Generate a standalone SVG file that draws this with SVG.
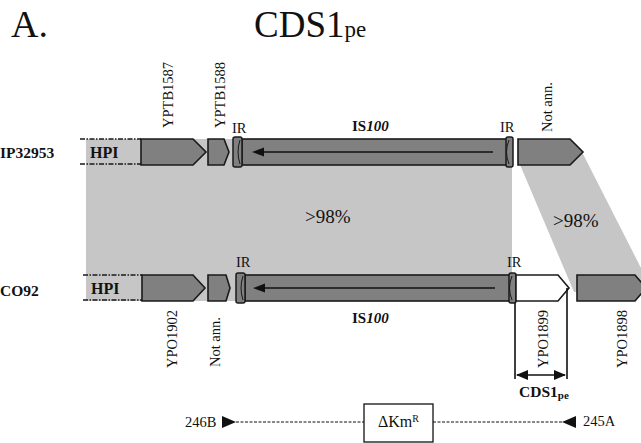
<svg xmlns="http://www.w3.org/2000/svg" width="641" height="443" viewBox="0 0 641 443" font-family="'Liberation Serif', 'DejaVu Serif', serif">
<defs>
<style>
text{font-family:"Liberation Serif","DejaVu Serif",serif;fill:#111}
.gene{fill:#808080;stroke:#1a1a1a;stroke-width:1.6;stroke-linejoin:miter}
.white{fill:#fff}
.ir{fill:#808080;stroke:#1a1a1a;stroke-width:1.5}
.irarc{fill:none;stroke:#1a1a1a;stroke-width:1}
.shade{fill:#c6c6c6}
.hpi{stroke:#1a1a1a;stroke-width:1.6;stroke-dasharray:5 1.5 1.5 1.5;fill:none}
.lbl{font-size:14.5px}
.b{font-weight:bold}
.line{stroke:#111;stroke-width:1.6;fill:none}
.head{fill:#111}
</style>
<marker id="dh" viewBox="0 0 12 10" refX="11" refY="5" markerWidth="12" markerHeight="10" markerUnits="userSpaceOnUse" orient="auto-start-reverse">
<path d="M0,0 L12,5 L0,10 Z" fill="#111"/>
</marker>
</defs>

<g id="title">
<text x="11" y="37" font-size="38">A.</text>
<text x="254" y="37" font-size="37">CDS1<tspan font-size="23">pe</tspan></text>
</g>

<g id="shading">
<rect class="shade" x="86" y="139" width="426" height="162"/>
<polygon class="shade" points="518,160 582,152 641,268 641,292 574,292"/>
<text x="305" y="223" font-size="19">&gt;98%</text>
<text x="553" y="227" font-size="19">&gt;98%</text>
</g>

<g id="row-labels">
<text x="0" y="158" font-size="15.5" class="b">IP32953</text>
<text x="0" y="296" font-size="15.5" class="b">CO92</text>
</g>

<g id="hpi-top">
<line class="hpi" x1="80" y1="139" x2="141" y2="139"/>
<line class="hpi" x1="80" y1="164" x2="141" y2="164"/>
<text x="90" y="158" font-size="16" class="b">HPI</text>
</g>
<g id="YPTB1587">
<path class="gene" d="M141,139 H193 L206,152 L193,165 H141 Z"/>
<text class="lbl" transform="translate(173,128) rotate(-90)">YPTB1587</text>
</g>
<g id="YPTB1588">
<path class="gene" d="M208,139 H224 L229,152 L224,165 H208 Z"/>
<text class="lbl" transform="translate(225,128) rotate(-90)">YPTB1588</text>
</g>
<g id="IS100-top">
<rect class="gene" x="242" y="139" width="265" height="26"/>
<line class="line" x1="493" y1="152" x2="262" y2="152" stroke-width="2"/>
<path class="head" d="M252,152 L264,147.5 L264,156.5 Z"/>
<rect class="ir" x="233" y="137" width="9" height="30" rx="2"/>
<path class="irarc" d="M240,140 Q236,152 240,164"/>
<rect class="ir" x="506" y="137" width="7" height="30" rx="2"/>
<path class="irarc" d="M509,140 Q504,152 509,164"/>
<text x="232" y="133" font-size="14.5">IR</text>
<text x="500" y="132" font-size="14.5">IR</text>
<text x="352" y="131" font-size="15" class="b">IS<tspan font-style="italic">100</tspan></text>
</g>
<g id="notann-top">
<path class="gene" d="M518,139 H570 L583,152 L570,165 H518 Z"/>
<text class="lbl" transform="translate(552,132) rotate(-90)">Not ann.</text>
</g>

<g id="hpi-bottom">
<line class="hpi" x1="83" y1="275" x2="142" y2="275"/>
<line class="hpi" x1="83" y1="300" x2="142" y2="300"/>
<text x="91" y="294" font-size="16" class="b">HPI</text>
</g>
<g id="YPO1902">
<path class="gene" d="M142,275 H193 L205,288 L193,301 H142 Z"/>
<text class="lbl" transform="translate(177,368) rotate(-90)">YPO1902</text>
</g>
<g id="notann-bottom">
<path class="gene" d="M208,275 H226 L230,288 L226,301 H208 Z"/>
<text class="lbl" transform="translate(220,367) rotate(-90)">Not ann.</text>
</g>
<g id="IS100-bottom">
<rect class="gene" x="245" y="275" width="265" height="26"/>
<line class="line" x1="495" y1="288" x2="263" y2="288" stroke-width="2"/>
<path class="head" d="M253,288 L265,283.5 L265,292.5 Z"/>
<rect class="ir" x="236" y="273" width="9" height="30" rx="2"/>
<path class="irarc" d="M243,276 Q239,288 243,300"/>
<rect class="ir" x="509" y="273" width="7" height="30" rx="2"/>
<path class="irarc" d="M512,276 Q507,288 512,300"/>
<text x="236" y="267" font-size="14.5">IR</text>
<text x="507" y="267" font-size="14.5">IR</text>
<text x="352" y="323" font-size="15" class="b">IS<tspan font-style="italic">100</tspan></text>
</g>
<g id="YPO1899">
<path class="gene white" d="M516,275 H558 L569,288 L558,301 H516 Z"/>
<text class="lbl" transform="translate(548,368) rotate(-90)">YPO1899</text>
</g>
<g id="YPO1898">
<path class="gene" d="M577,275 H635 L646,288 L635,301 H577 Z"/>
<text class="lbl" transform="translate(627,368) rotate(-90)">YPO1898</text>
</g>

<g id="connectors">
<line class="line" x1="515" y1="303" x2="515" y2="379"/>
<line class="line" x1="567" y1="288" x2="567" y2="379"/>
<line class="line" x1="517" y1="375" x2="565" y2="375" marker-start="url(#dh)" marker-end="url(#dh)"/>
<line x1="236" y1="422" x2="364" y2="422" stroke="#111" stroke-width="1" stroke-dasharray="3 1.5"/>
<line x1="433" y1="422" x2="562" y2="422" stroke="#111" stroke-width="1" stroke-dasharray="3 1.5"/>
<path d="M222,416 L236,422 L222,428 Z" fill="#111"/>
<path d="M576,416 L562,422 L576,428 Z" fill="#111"/>
</g>

<g id="cds1pe-label">
<text x="519" y="397" font-size="15.5" class="b">CDS1<tspan font-size="11" dy="2">pe</tspan></text>
</g>
<g id="kmr">
<rect x="364" y="404" width="69" height="38" fill="#fff" stroke="#111" stroke-width="1.3"/>
<text x="378" y="427" font-size="16">ΔKm<tspan font-size="10" dy="-5">R</tspan></text>
</g>
<g id="primers">
<text x="185" y="427" font-size="14.5">246B</text>
<text x="583" y="426" font-size="14.5">245A</text>
</g>
</svg>
